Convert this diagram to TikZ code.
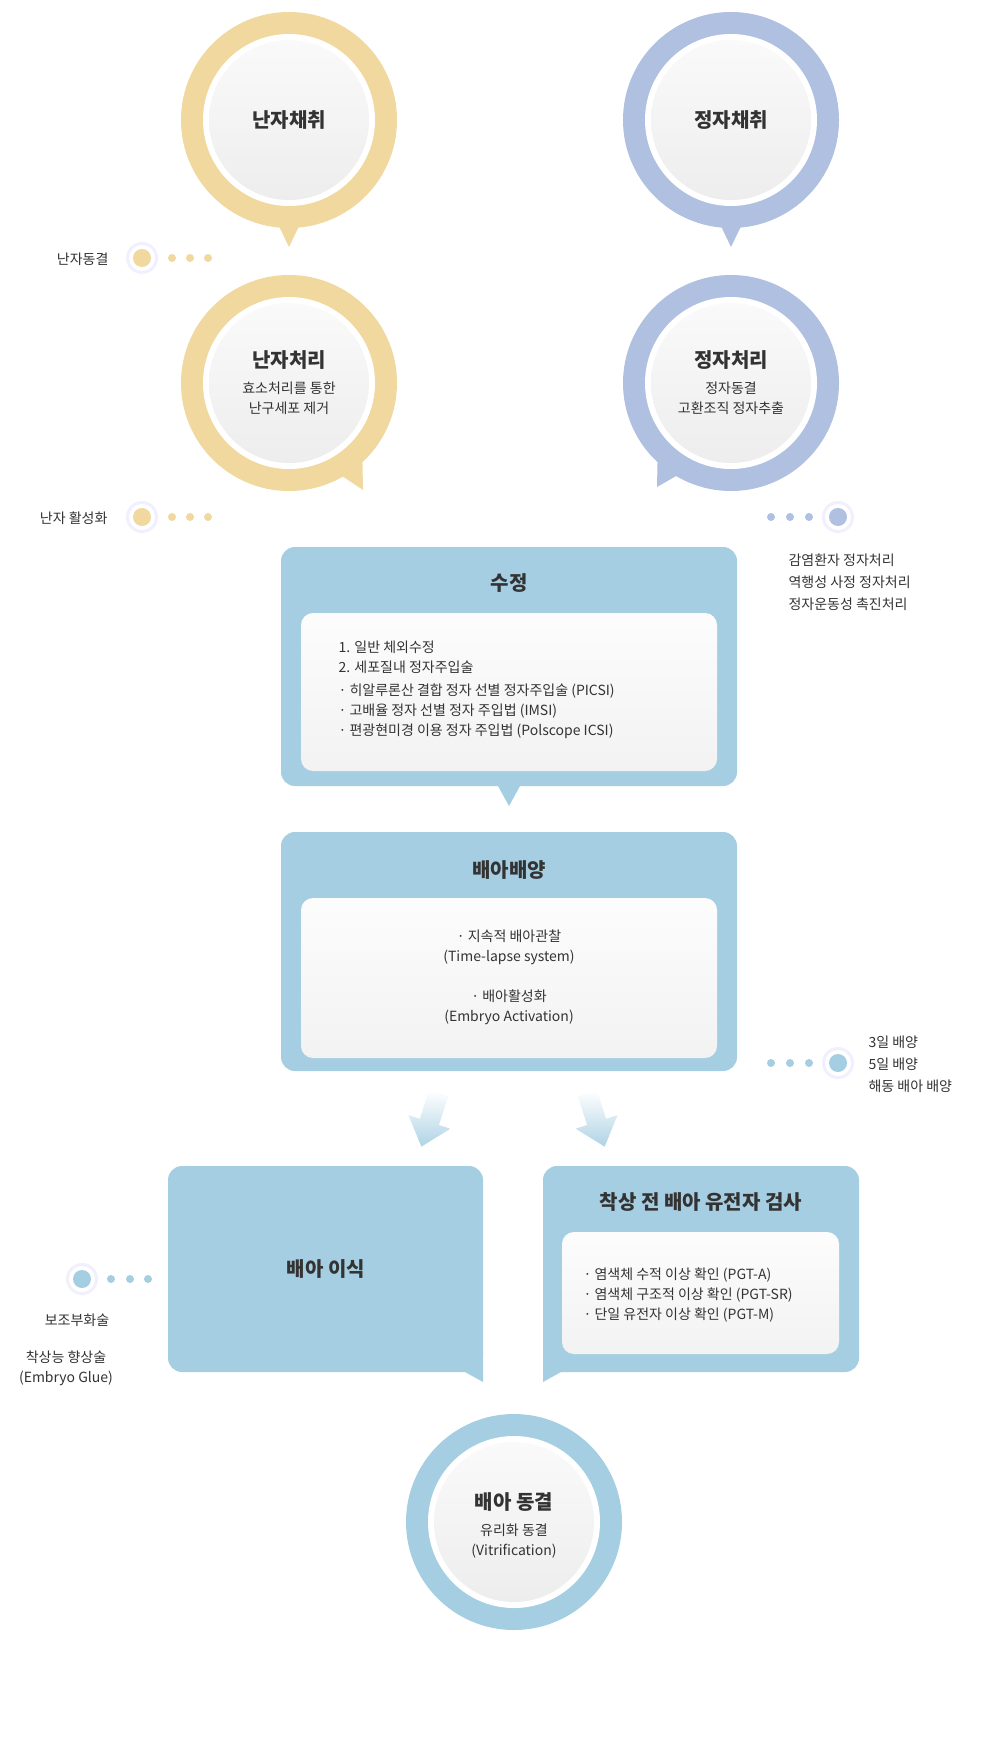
\documentclass[tikz,border=0pt]{standalone}
\usepackage{fontspec}
\setmainfont{Noto Sans CJK KR}
\definecolor{ylw}{HTML}{F0D89E}
\definecolor{pur}{HTML}{AFC0E0}
\definecolor{lbl}{HTML}{A6CEE2}
\definecolor{txt}{HTML}{333333}
\begin{document}
\begin{tikzpicture}[x=1pt,y=-1pt,
  ttl/.style={text=txt,font=\fontsize{20}{24}\selectfont\bfseries,align=center},
  bod/.style={text=txt,font=\fontsize{14}{20}\selectfont,align=center},
  bodl/.style={text=txt,font=\fontsize{14}{20}\selectfont,align=left},
  lbll/.style={text=txt,font=\fontsize{14}{22}\selectfont,align=left},
  inner/.style={top color=white!96!gray,bottom color=gray!14},
  boxin/.style={rounded corners=12pt,top color=white!98!gray,bottom color=gray!10},
  blk/.style={rounded corners=14pt}]
\useasboundingbox (0,0) rectangle (1000,1744);
\fill[white] (0,0) rectangle (1000,1744);
\newcommand{\bubc}[3]{% x y colour
  \fill[#3] (#1,#2) circle (108);
  \fill[white] (#1,#2) circle (86);
  \shade[inner] (#1,#2) circle (80);}
\newcommand{\dotrow}[6]{% big x, y, colour, s1,s2,s3
  \fill[white!90!blue!60!white] (#1,#2) circle (16);
  \fill[white] (#1,#2) circle (13);
  \fill[#3] (#1,#2) circle (9);
  \fill[#3] (#4,#2) circle (4); \fill[#3] (#5,#2) circle (4); \fill[#3] (#6,#2) circle (4);}
% ---- top circles
\fill[ylw] (277,222) -- (289,247) -- (301,222) -- cycle;
\bubc{289}{120}{ylw}
\node[ttl] (c1) at (289,120) {난자채취};
\fill[pur] (719,222) -- (731,247) -- (743,222) -- cycle;
\bubc{731}{120}{pur}
\node[ttl] (c2) at (731,120) {정자채취};
\fill[ylw] (330,468) -- (362,440) -- (363,490) -- cycle;
\bubc{289}{383}{ylw}
\node[ttl] (c3) at (289,360) {난자처리};
\node[bod] (c3t) at (289,398) {효소처리를 통한\\난구세포 제거};
\fill[pur] (690,468) -- (658,440) -- (657,487) -- cycle;
\bubc{731}{383}{pur}
\node[ttl] (c4) at (731,360) {정자처리};
\node[bod] (c4t) at (731,398) {정자동결\\고환조직 정자추출};
% ---- dots
\dotrow{142}{258}{ylw}{172}{190}{208}
\node[lbll,anchor=east] (l1) at (112,259) {난자동결};
\dotrow{142}{517}{ylw}{172}{190}{208}
\node[lbll,anchor=east] (l2) at (111,518) {난자 활성화};
\dotrow{838}{517}{pur}{771}{790}{809}
\node[lbll,anchor=north west] (l3) at (785,550) {감염환자 정자처리\\역행성 사정 정자처리\\정자운동성 촉진처리};
% ---- 수정
\fill[lbl] (498,786) -- (509,806) -- (520,786) -- cycle;
\fill[lbl,blk] (281,547) rectangle (737,786);
\node[ttl] (s1) at (509,583) {수정};
\shade[boxin] (301,613) rectangle (717,771);
\node[bodl,anchor=north west] (s2) at (335,637) {1. 일반 체외수정\\2. 세포질내 정자주입술\\[3pt]· 히알루론산 결합 정자 선별 정자주입술 (PICSI)\\· 고배율 정자 선별 정자 주입법 (IMSI)\\· 편광현미경 이용 정자 주입법 (Polscope ICSI)};
% ---- 배아배양
\fill[lbl,blk] (281,832) rectangle (737,1071);
\node[ttl] (b1) at (509,870) {배아배양};
\shade[boxin] (301,898) rectangle (717,1058);
\node[bod] (b2) at (509,947) {· 지속적 배아관찰\\(Time-lapse system)};
\node[bod] (b3) at (509,1007) {· 배아활성화\\(Embryo Activation)};
\dotrow{838}{1063}{lbl}{771}{790}{809}
\node[lbll,anchor=north west] (l4) at (865,1032) {3일 배양\\5일 배양\\해동 배아 배양};
% ---- arrows
\begin{scope}[shift={(430,1120)},rotate=-18]
\shade[top color=white,bottom color=lbl!90] (-10,-28) -- (10,-28) -- (10,2) -- (22,2) -- (0,28) -- (-22,2) -- (-10,2) -- cycle;
\end{scope}
\begin{scope}[shift={(596,1120)},rotate=18]
\shade[top color=white,bottom color=lbl!90] (-10,-28) -- (10,-28) -- (10,2) -- (22,2) -- (0,28) -- (-22,2) -- (-10,2) -- cycle;
\end{scope}
% ---- 배아 이식
\fill[lbl] (465,1372) -- (483,1382) -- (483,1360) -- cycle;
\fill[lbl,blk] (168,1166) rectangle (483,1372);
\node[ttl] (e1) at (326,1269) {배아 이식};
\dotrow{82}{1279}{lbl}{111}{130}{148}
\node[bod] (l5) at (77,1320) {보조부화술};
\node[bod] (l6) at (66,1368) {착상능 향상술\\(Embryo Glue)};
% ---- PGT
\fill[lbl] (561,1372) -- (543,1382) -- (543,1360) -- cycle;
\fill[lbl,blk] (543,1166) rectangle (859,1372);
\node[ttl] (p1) at (701,1202) {착상 전 배아 유전자 검사};
\shade[boxin] (562,1232) rectangle (839,1354);
\node[bodl,anchor=west] (p2) at (580,1295) {· 염색체 수적 이상 확인 (PGT-A)\\· 염색체 구조적 이상 확인 (PGT-SR)\\· 단일 유전자 이상 확인 (PGT-M)};
% ---- 배아 동결
\bubc{514}{1522}{lbl}
\node[ttl] (f1) at (514,1502) {배아 동결};
\node[bod] (f2) at (514,1541) {유리화 동결\\(Vitrification)};
\end{tikzpicture}
\end{document}
